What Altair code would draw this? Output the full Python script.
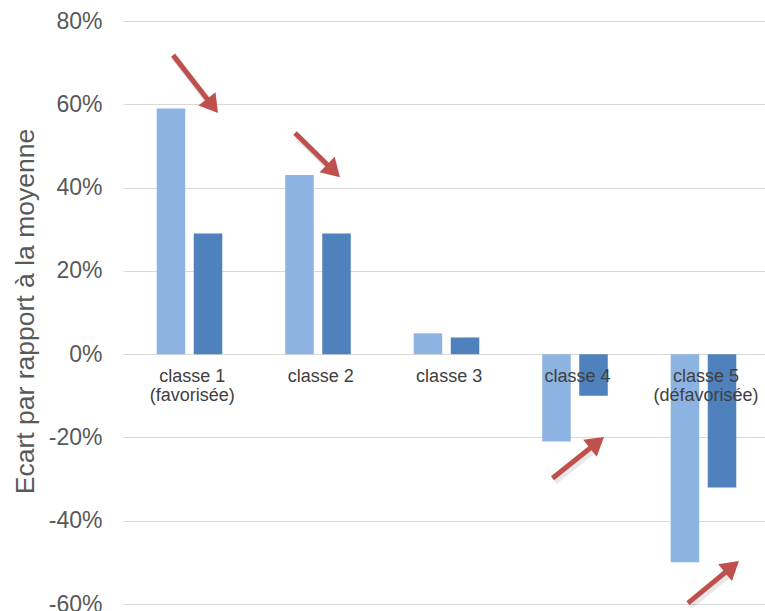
import math
import altair as alt
import pandas as pd

# ---------------- data ----------------
categories = ["classe 1", "classe 2", "classe 3", "classe 4", "classe 5"]
cat_labels = ["classe 1\n(favorisée)", "classe 2", "classe 3", "classe 4", "classe 5\n(défavorisée)"]
series_names = ["Série 1", "Série 2"]
values_s1 = [0.59, 0.43, 0.05, -0.21, -0.50]
values_s2 = [0.29, 0.29, 0.04, -0.10, -0.32]
y_ticks = [-0.6, -0.4, -0.2, 0.0, 0.2, 0.4, 0.6, 0.8]

# annotation arrows (x in category-position units: classe k centre = k ; y in share)
arrow_tail_x = [0.872, 1.821, 3.825, 4.879]
arrow_tail_y = [0.718, 0.531, -0.298, -0.598]
arrow_head_x = [1.222, 2.171, 4.226, 5.276]
arrow_head_y = [0.579, 0.425, -0.199, -0.497]

# ---------------- style / geometry ----------------
colors = ["#8DB3E2", "#4F81BD"]
arrow_color = "#C0504D"
W, H = 642, 583
LEFT, TOP = 123, 21
step = 128.5
pad_inner = 0.49
pad_outer = (W / step - 5 + pad_inner) / 2
first_center = 66.5
align = (first_center - step * (1 - pad_inner) / 2) / (W - step * (5 - pad_inner))
px_per_k = step
px_per_y = H / 1.4
k_min = 1 - first_center / step
k_max = 1 + (W - first_center) / step

rows = []
for c, a, b in zip(categories, values_s1, values_s2):
    rows.append({"cat": c, "serie": series_names[0], "val": a})
    rows.append({"cat": c, "serie": series_names[1], "val": b})
bars_df = pd.DataFrame(rows)
labels_df = pd.DataFrame({"cat": categories, "label": cat_labels})

arows = []
head_len = 12
for tx, ty, hx, hy in zip(arrow_tail_x, arrow_tail_y, arrow_head_x, arrow_head_y):
    dx = (hx - tx) * px_per_k
    dy = -(hy - ty) * px_per_y
    L = math.hypot(dx, dy)
    f = 1 - head_len / L
    ang = math.degrees(math.atan2(dx, -dy)) % 360
    arows.append({"tx": tx, "ty": ty, "hx": hx, "hy": hy,
                  "ex": tx + f * (hx - tx), "ey": ty + f * (hy - ty), "ang": ang})
arrows_df = pd.DataFrame(arows)

FONT = "Liberation Sans"

x_band = alt.X("cat:N", sort=categories, axis=None,
               scale=alt.Scale(paddingInner=pad_inner, paddingOuter=pad_outer, align=align))
y_enc = alt.Y("val:Q",
              scale=alt.Scale(domain=[-0.6, 0.8], nice=False, zero=False),
              axis=alt.Axis(values=y_ticks, labelExpr="round(datum.value*100) + '%'",
                            title="Ecart par rapport à la moyenne",
                            labelFontSize=23, labelColor="#595959", labelFont=FONT,
                            labelPadding=21, ticks=False, domain=False,
                            grid=True, gridColor="#D9D9D9", gridWidth=1,
                            titleFontSize=26.5, titleFont=FONT, titleColor="#595959",
                            titleFontWeight="normal", titleX=-90, titleY=290,
                            titleAngle=270, titleAlign="center", titleBaseline="alphabetic"))

bars = alt.Chart(bars_df).mark_bar().encode(
    x=x_band,
    xOffset=alt.XOffset("serie:N", sort=series_names,
                        scale=alt.Scale(paddingInner=0.23, paddingOuter=0)),
    y=y_enc,
    color=alt.Color("serie:N", sort=series_names,
                    scale=alt.Scale(domain=series_names, range=colors), legend=None),
)

labels = alt.Chart(labels_df).mark_text(
    font=FONT, fontSize=18, color="#404040", baseline="top", align="center",
    dy=14, lineBreak="\n", lineHeight=19,
).encode(x=x_band, y=alt.datum(0), text="label:N")

xq = alt.Scale(domain=[k_min, k_max], nice=False, zero=False)

shadow = alt.Chart(arrows_df).mark_rule(
    color="#000000", opacity=0.09, strokeWidth=7, strokeCap="butt",
    xOffset=2, x2Offset=2, yOffset=3, y2Offset=3,
).encode(
    x=alt.X("tx:Q", scale=xq, axis=None), x2="ex:Q",
    y=alt.Y("ty:Q"), y2="ey:Q",
)
shafts = alt.Chart(arrows_df).mark_rule(
    color=arrow_color, strokeWidth=5, strokeCap="butt",
).encode(
    x=alt.X("tx:Q", scale=xq, axis=None), x2="ex:Q",
    y=alt.Y("ty:Q"), y2="ey:Q",
)
heads = alt.Chart(arrows_df).mark_point(
    shape="M0,0L0.6,1L-0.6,1Z", filled=True, color=arrow_color, opacity=1,
    size=1300, strokeWidth=0,
).encode(
    x=alt.X("hx:Q", scale=xq, axis=None),
    y=alt.Y("hy:Q"),
    angle=alt.Angle("ang:Q", scale=None),
)

chart = alt.layer(bars, labels, shadow, shafts, heads).resolve_scale(
    x="independent"
).properties(
    width=W, height=H,
    autosize=alt.AutoSizeParams(type="none"),
    padding={"left": LEFT, "top": TOP, "right": 0, "bottom": 611 - TOP - H},
    background="#FFFFFF",
).configure_view(stroke=None)

chart.save("out.html", embed_options={"renderer": "svg", "actions": False})
